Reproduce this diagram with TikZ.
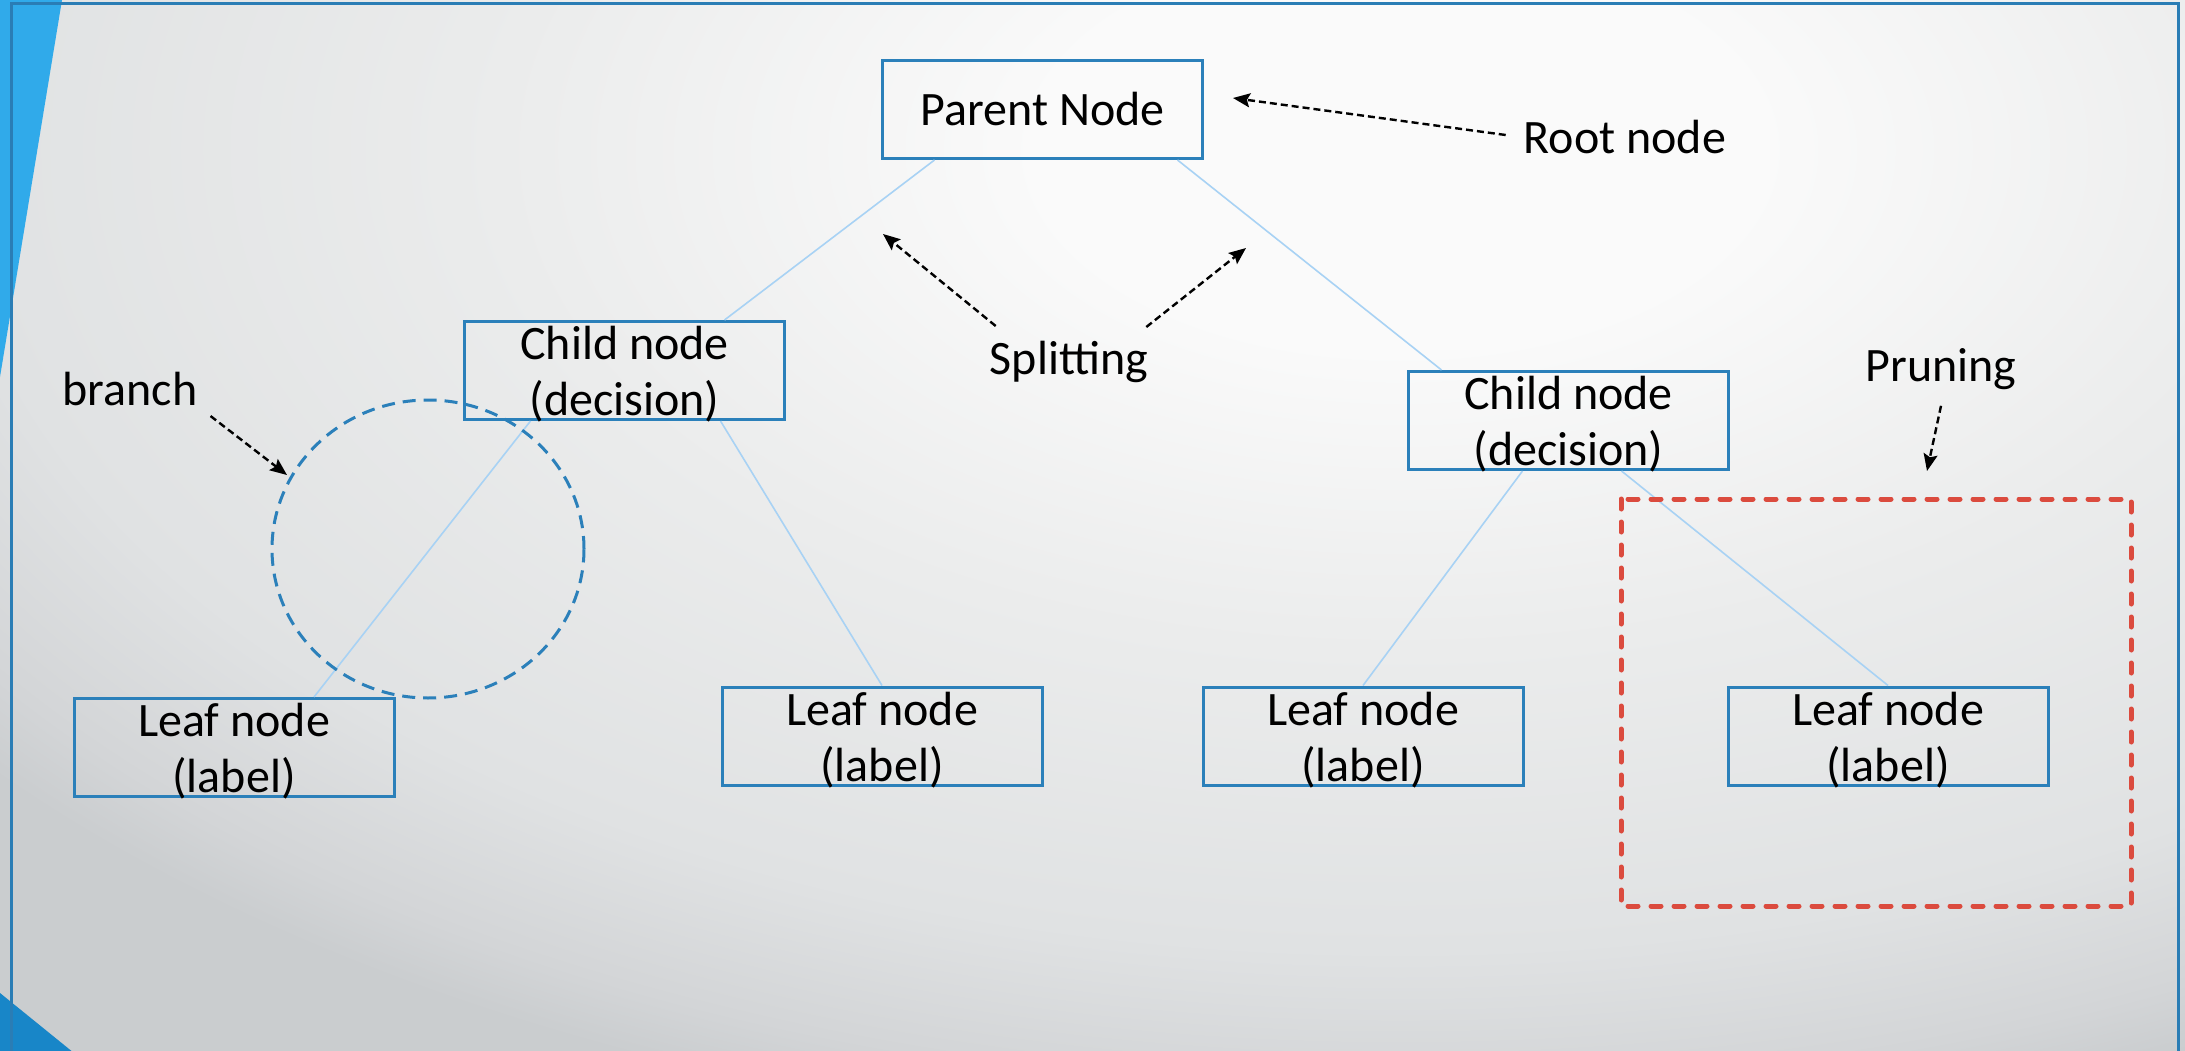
\documentclass[tikz,border=0pt]{standalone}
\usepackage{fontspec}
\setmainfont{Carlito}
\usetikzlibrary{arrows.meta,calc}
\definecolor{frameblue}{HTML}{2A7DB5}
\definecolor{boxblue}{HTML}{2B80BA}
\definecolor{lineblue}{HTML}{A8D2F4}
\definecolor{triA}{HTML}{30AAEA}
\definecolor{triB}{HTML}{1886C8}
\definecolor{prunered}{HTML}{DB4B3E}
\definecolor{bgA}{HTML}{FAFAFA}
\definecolor{bgB}{HTML}{EBECEC}
\definecolor{bgC}{HTML}{E0E2E3}
\definecolor{bgD}{HTML}{D3D5D7}
\definecolor{bgE}{HTML}{CACDCF}
\pgfdeclareradialshading{bgshade}{\pgfpoint{0bp}{0bp}}{color(0bp)=(bgA); color(5bp)=(bgA); color(12.5bp)=(bgB); color(20bp)=(bgC); color(23.5bp)=(bgD); color(25bp)=(bgE); color(50bp)=(bgE)}
\tikzset{
  treebox/.style={draw=boxblue, line width=3pt, minimum width=320pt, minimum height=98pt, inner sep=0pt},
  lbl/.style={font=\fontsize{48pt}{56pt}\selectfont, align=center, inner sep=0pt, text=black},
  treeedge/.style={draw=lineblue, line width=1.6pt},
  note/.style={draw=black, line width=2.4pt, dash pattern=on 7pt off 4pt, -{Stealth[length=17pt,width=14pt,inset=3pt]}},
  circ/.style={draw=boxblue, line width=3pt, dash pattern=on 13pt off 8pt},
  prunebox/.style={draw=prunered, line width=5pt, dash pattern=on 10pt off 13pt, line cap=round}
}
\begin{document}
\begin{tikzpicture}[x=1pt,y=-1pt]
\useasboundingbox (0,0) rectangle (2185,1051);
\clip (0,0) rectangle (2185,1051);
% background
\fill[bgE] (0,0) rectangle (2185,1051);
\shade[shading=bgshade] (-400,-850) rectangle (3200,1150);
\fill[triA] (0,0) -- (62,0) -- (0,377) -- cycle;
\fill[triB] (0,993) -- (74,1053) -- (0,1053) -- cycle;
\draw[frameblue, line width=3pt] (11,4) rectangle (2178,1100);

% tree boxes
\node[treebox] (parent) at (1042.5,109.5) {};
\node[lbl] (parentT) at (parent.center) {Parent Node};
\node[treebox] (cl) at (624.5,370.5) {};
\node[lbl] (clT) at ([yshift=-4pt]cl.center) {Child node\\(decision)};
\node[treebox] (cr) at (1568.5,420.5) {};
\node[lbl] (crT) at ([yshift=-4pt]cr.center) {Child node\\(decision)};
\node[treebox] (l1) at (234,747.5) {};
\node[lbl] (l1T) at ([yshift=-4pt]l1.center) {Leaf node\\(label)};
\node[treebox] (l2) at (882,736) {};
\node[lbl] (l2T) at ([yshift=-4pt]l2.center) {Leaf node\\(label)};
\node[treebox] (l3) at (1363,736) {};
\node[lbl] (l3T) at ([yshift=-4pt]l3.center) {Leaf node\\(label)};
\node[treebox] (l4) at (1888,736) {};
\node[lbl] (l4T) at ([yshift=-4pt]l4.center) {Leaf node\\(label)};

% tree edges
\draw[treeedge] ([xshift=-108pt]parent.south) -- ([xshift=100pt]cl.north);
\draw[treeedge] ([xshift=135pt]parent.south) -- ([xshift=-127pt]cr.north);
\draw[treeedge] ([xshift=-94pt]cl.south) -- ([xshift=80pt]l1.north);
\draw[treeedge] ([xshift=96pt]cl.south) -- (l2.north);
\draw[treeedge] ([xshift=-46pt]cr.south) -- (l3.north);
\draw[treeedge] ([xshift=53pt]cr.south) -- (l4.north);

% annotations
\node[lbl] (root) at (1625,137) {Root node};
\coordinate (rootTip) at (1233,98);
\draw[note] ([xshift=-18pt,yshift=2pt]root.west) -- (rootTip);

\node[lbl] (split) at (1069,362) {Splitting};
\coordinate (splitTipL) at (883,234);
\coordinate (splitTipR) at (1246,248);
\draw[note] ([xshift=6pt,yshift=15pt]split.north west) -- (splitTipL);
\draw[note] ([xshift=-2pt,yshift=14pt]split.north east) -- (splitTipR);

\node[lbl] (branch) at (130,389) {branch};
\coordinate (branchTip) at (287,475);
\draw[note] ([xshift=13pt,yshift=-10pt]branch.south east) -- (branchTip);
\draw[circ] (428,549) ellipse [x radius=156pt, y radius=149pt];

\node[lbl] (prun) at (1941,369) {Pruning};
\coordinate (prunTip) at (1927,471);
\draw[note] ([yshift=-16pt]prun.south) -- (prunTip);
\draw[prunebox] (1621,499) rectangle (2131,906);
\end{tikzpicture}
\end{document}
